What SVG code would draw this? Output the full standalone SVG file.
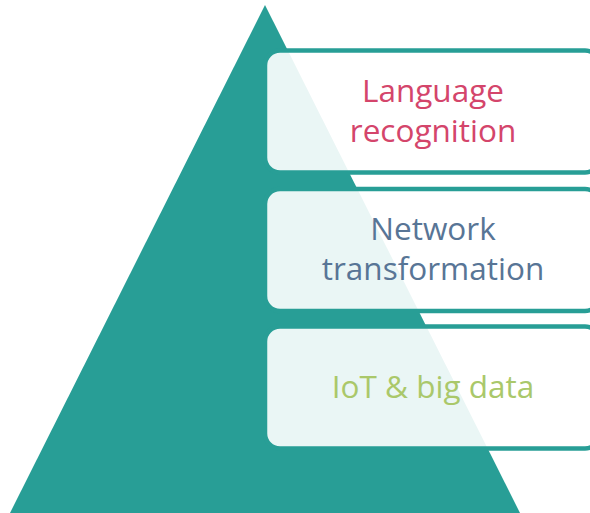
<svg xmlns="http://www.w3.org/2000/svg" width="590" height="513" viewBox="0 0 590 513">
<style>
.box{fill:#ffffff;fill-opacity:0.9;stroke:#289E96;stroke-width:4.5}
.t{font-family:"Open Sans","Noto Sans",sans-serif;font-size:31.5px;text-anchor:middle}
</style>
<rect width="590" height="513" fill="#ffffff"/>
<g id="pyramid"><polygon points="265,5 10,513 520,513" fill="#289E96"/></g>
<g id="connectors"></g>
<g id="box-language">
<rect class="box" x="265" y="50.5" width="335" height="122" rx="15"/>
<text class="t" x="433" y="102" fill="#D4456B">Language</text>
<text class="t" x="433" y="142" fill="#D4456B">recognition</text>
</g>
<g id="box-network">
<rect class="box" x="265" y="189" width="335" height="122" rx="15"/>
<text class="t" x="433" y="240" fill="#587596">Network</text>
<text class="t" x="433" y="280" fill="#587596">transformation</text>
</g>
<g id="box-iot">
<rect class="box" x="265" y="326.5" width="335" height="122" rx="15"/>
<text class="t" x="433" y="398" fill="#AAC86A">IoT &amp; big data</text>
</g>
</svg>
